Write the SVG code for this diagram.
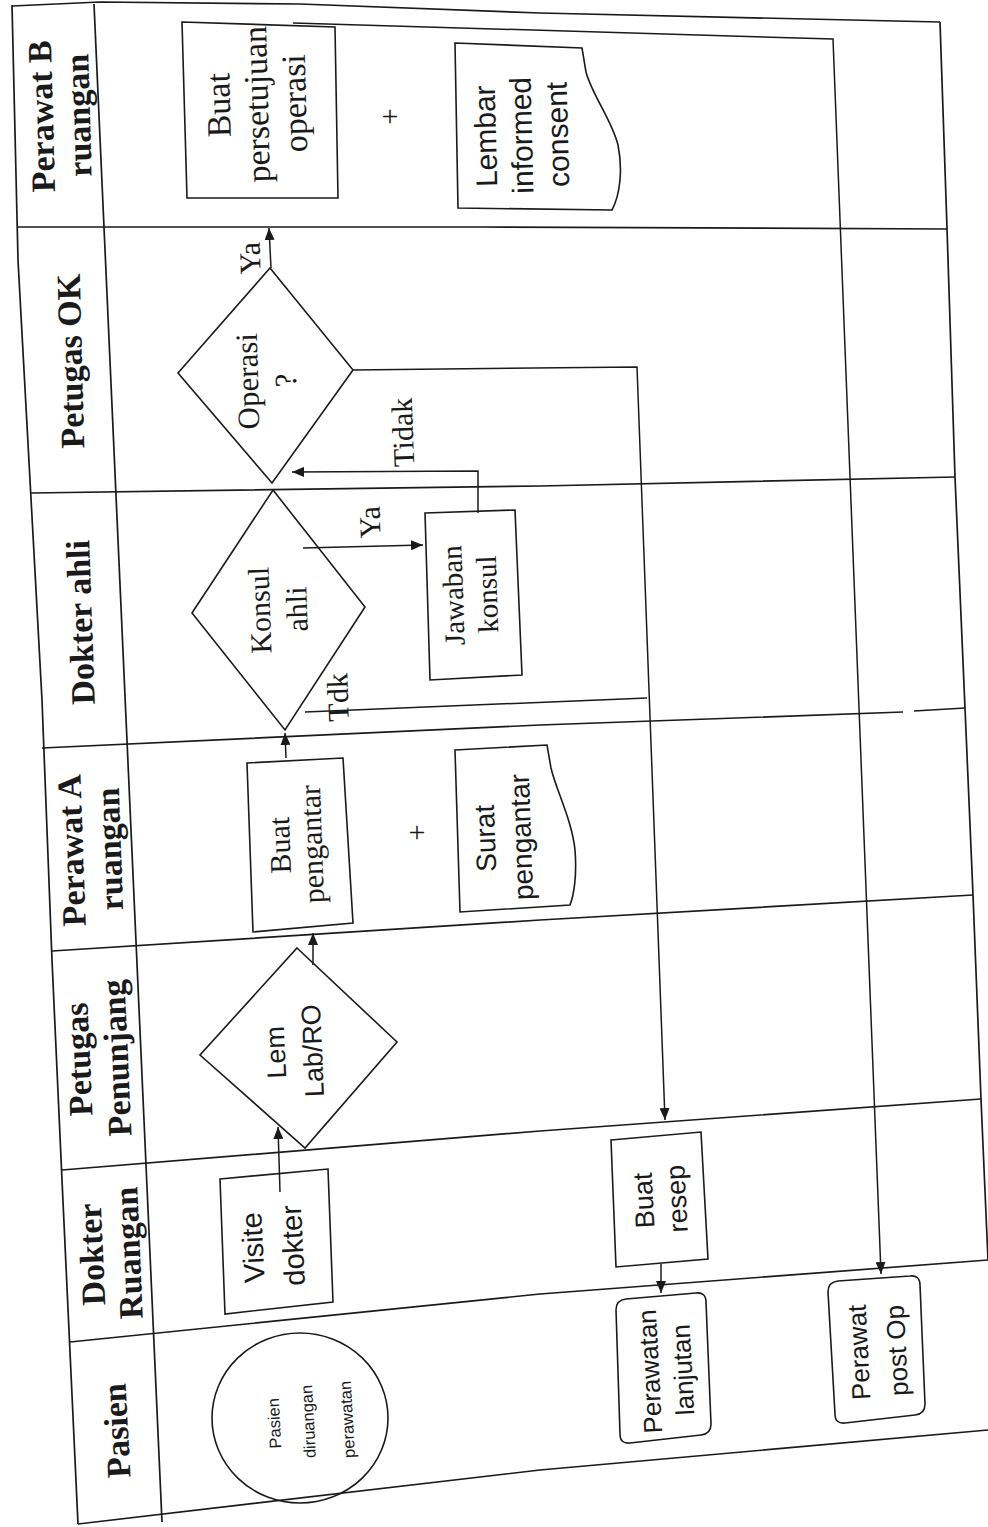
<svg xmlns="http://www.w3.org/2000/svg" width="988" height="1527" viewBox="0 0 988 1527">
  <defs>
    <marker id="arrow" markerUnits="userSpaceOnUse" markerWidth="12" markerHeight="10" refX="12" refY="5" orient="auto">
      <path d="M0,0 L12,5 L0,10 Z" fill="#1a1a1a"/>
    </marker>
    <style>
      .grid { fill: none; stroke: #1a1a1a; stroke-width: 1.7; stroke-linejoin: round; }
      .shape { fill: none; stroke: #1a1a1a; stroke-width: 1.6; stroke-linejoin: miter; }
      .conn { fill: none; stroke: #1a1a1a; stroke-width: 1.5; }
      .arrow { marker-end: url(#arrow); }
      text { fill: #1a1a1a; text-anchor: middle; }
      .hd { font-family: "Liberation Serif", "Times New Roman", serif; font-weight: bold; font-size: 34px; }
      .sf { font-family: "Liberation Serif", "Times New Roman", serif; font-size: 30px; }
      .ss { font-family: "Liberation Sans", Arial, sans-serif; font-size: 27px; }
    </style>
  </defs>

  <rect x="0" y="0" width="988" height="1527" fill="#ffffff"/>

  <!-- swimlane table frame -->
  <g id="lanes">
    <polyline class="grid" points="12,5 18,260 42,700 52,960 62,1180 78,1524"/>
    <polyline class="grid" points="12,6 100,2 300,4 540,13 940,22"/>
    <polyline class="grid" points="940,22 947,228 955,477 965,708 973,895 981,1099 988,1260"/>
    <line class="grid" x1="94" y1="4" x2="162" y2="1522"/>
    <polyline class="grid" points="18,227 480,227 947,229"/>
    <polyline class="grid" points="31,493 540,486 955,477"/>
    <polyline class="grid" points="42,748 540,725 903,712"/>
    <line class="grid" x1="914" y1="711" x2="965" y2="708"/>
    <polyline class="grid" points="52,951 540,920 973,895"/>
    <polyline class="grid" points="62,1170 540,1131 981,1099"/>
    <polyline class="grid" points="70,1342 540,1294 988,1260"/>
    <polyline class="grid" points="78,1524 540,1470 988,1430"/>
  </g>

  <!-- lane headers -->
  <g id="hdr-perawat-b">
    <text class="hd" transform="translate(53,116) rotate(-91.5)"><tspan x="0" y="0">Perawat B</tspan><tspan x="0" dy="37">ruangan</tspan></text>
  </g>
  <g id="hdr-petugas-ok">
    <text class="hd" transform="translate(82,361) rotate(-91.5)">Petugas OK</text>
  </g>
  <g id="hdr-dokter-ahli">
    <text class="hd" transform="translate(92,622) rotate(-92)">Dokter ahli</text>
  </g>
  <g id="hdr-perawat-a">
    <text class="hd" transform="translate(83,850) rotate(-92)"><tspan x="0" y="0">Perawat A</tspan><tspan x="0" dy="38">ruangan</tspan></text>
  </g>
  <g id="hdr-petugas-penunjang">
    <text class="hd" transform="translate(90,1059) rotate(-92.5)"><tspan x="0" y="0">Petugas</tspan><tspan x="0" dy="38">Penunjang</tspan></text>
  </g>
  <g id="hdr-dokter-ruangan">
    <text class="hd" transform="translate(103,1254) rotate(-92.5)"><tspan x="0" y="0">Dokter</tspan><tspan x="0" dy="37">Ruangan</tspan></text>
  </g>
  <g id="hdr-pasien">
    <text class="hd" transform="translate(128,1430) rotate(-93)">Pasien</text>
  </g>

  <!-- process nodes -->
  <g id="buat-persetujuan">
    <polygon class="shape" points="182,22 335,27 338,198 187,198"/>
    <text class="sf" style="font-size:34px" transform="translate(230,105) rotate(-91.5)"><tspan x="0" y="0">Buat</tspan><tspan x="0" dy="38">persetujuan</tspan><tspan x="0" dy="38">operasi</tspan></text>
  </g>
  <g id="plus-b">
    <text class="sf" x="390" y="126">+</text>
  </g>
  <g id="lembar-consent">
    <path class="shape" d="M455,43 L582,48 L586,72 C592,95 612,120 618,145 C623,170 620,195 612,210 L458,208 Z"/>
    <text class="ss" style="font-size:30px" transform="translate(496,136) rotate(-91.5)"><tspan x="0" y="0">Lembar</tspan><tspan x="0" dy="36">informed</tspan><tspan x="0" dy="36">consent</tspan></text>
  </g>
  <g id="operasi">
    <polygon class="shape" points="270,268 353,370 272,483 178,373"/>
    <text class="sf" style="font-size:31px" transform="translate(258,381) rotate(-91.5)"><tspan x="0" y="0">Operasi</tspan><tspan x="0" dy="38">?</tspan></text>
  </g>
  <g id="konsul-ahli">
    <polygon class="shape" points="273,490 365,607 285,730 192,613"/>
    <text class="sf" transform="translate(270,610) rotate(-92)"><tspan x="0" y="0">Konsul</tspan><tspan x="0" dy="37">ahli</tspan></text>
  </g>
  <g id="jawaban-konsul">
    <polygon class="shape" points="425,513 515,510 522,675 430,680"/>
    <text class="sf" style="font-size:29px" transform="translate(463,595) rotate(-92)"><tspan x="0" y="0">Jawaban</tspan><tspan x="0" dy="34">konsul</tspan></text>
  </g>
  <g id="buat-pengantar">
    <polygon class="shape" points="247,763 343,758 353,923 253,932"/>
    <text class="sf" transform="translate(290,845) rotate(-92)"><tspan x="0" y="0">Buat</tspan><tspan x="0" dy="32">pengantar</tspan></text>
  </g>
  <g id="plus-a">
    <text class="sf" x="417" y="842">+</text>
  </g>
  <g id="surat-pengantar">
    <path class="shape" d="M455,750 L547,745 L551,768 C556,790 572,820 575,850 C577,875 574,895 570,905 L460,912 Z"/>
    <text class="ss" style="font-size:28px" transform="translate(495,838) rotate(-92)"><tspan x="0" y="0">Surat</tspan><tspan x="0" dy="36">pengantar</tspan></text>
  </g>
  <g id="lem-lab-ro">
    <polygon class="shape" points="297,948 397,1042 305,1148 200,1055"/>
    <text class="ss" transform="translate(285,1052) rotate(-92.5)"><tspan x="0" y="0">Lem</tspan><tspan x="0" dy="37">Lab/RO</tspan></text>
  </g>
  <g id="visite-dokter">
    <polygon class="shape" points="220,1179 328,1169 333,1302 225,1314"/>
    <text class="ss" style="font-size:29px" transform="translate(263,1247) rotate(-93)"><tspan x="0" y="0">Visite</tspan><tspan x="0" dy="40">dokter</tspan></text>
  </g>
  <g id="pasien-start">
    <ellipse class="shape" cx="300" cy="1418" rx="88" ry="85"/>
    <text class="ss" style="font-size:16.5px" transform="translate(280,1423) rotate(-93)"><tspan x="0" y="0">Pasien</tspan><tspan x="0" dy="34">diruangan</tspan><tspan x="0" dy="39">perawatan</tspan></text>
  </g>
  <g id="buat-resep">
    <polygon class="shape" points="611,1140 701,1132 708,1259 616,1267"/>
    <text class="ss" transform="translate(653,1200) rotate(-93)"><tspan x="0" y="0">Buat</tspan><tspan x="0" dy="33">resep</tspan></text>
  </g>
  <g id="perawatan-lanjutan">
    <path class="shape" d="M626,1299 L696,1293 Q706,1292 706,1302 L711,1424 Q711,1434 701,1435 L630,1443 Q620,1444 620,1434 L616,1310 Q616,1300 626,1299 Z"/>
    <text class="ss" style="font-size:26px" transform="translate(659,1371) rotate(-93)"><tspan x="0" y="0">Perawatan</tspan><tspan x="0" dy="33">lanjutan</tspan></text>
  </g>
  <g id="perawat-post-op">
    <path class="shape" d="M838,1281 L910,1276 Q920,1275 920,1285 L925,1404 Q925,1414 915,1415 L845,1423 Q835,1424 835,1414 L828,1292 Q828,1282 838,1281 Z"/>
    <text class="ss" style="font-size:26px" transform="translate(868,1352) rotate(-93)"><tspan x="0" y="0">Perawat</tspan><tspan x="0" dy="38">post Op</tspan></text>
  </g>

  <!-- flow connectors and their labels -->
  <g id="connectors">
    <path class="conn arrow" d="M271,268 L269,228"/>
    <path class="conn arrow" d="M303,548 L423,545"/>
    <path class="conn arrow" d="M478,513 L478,471 L292,472"/>
    <path class="conn" d="M305,712 L647,698"/>
    <path class="conn arrow" d="M353,370 L637,367 L665,1120"/>
    <path class="conn arrow" d="M293,23 L833,39 L881,1274"/>
    <path class="conn arrow" d="M286,758 L285,733"/>
    <path class="conn arrow" d="M313,965 L313,933"/>
    <path class="conn arrow" d="M280,1192 L278,1127"/>
    <path class="conn arrow" d="M661,1264 L661,1293"/>
    <text class="sf" transform="translate(260,258) rotate(-91.5)">Ya</text>
    <text class="sf" transform="translate(380,522) rotate(-92)">Ya</text>
    <text class="sf" transform="translate(413,432) rotate(-92)">Tidak</text>
    <text class="sf" transform="translate(348,697) rotate(-92)">Tdk</text>
  </g>
</svg>
